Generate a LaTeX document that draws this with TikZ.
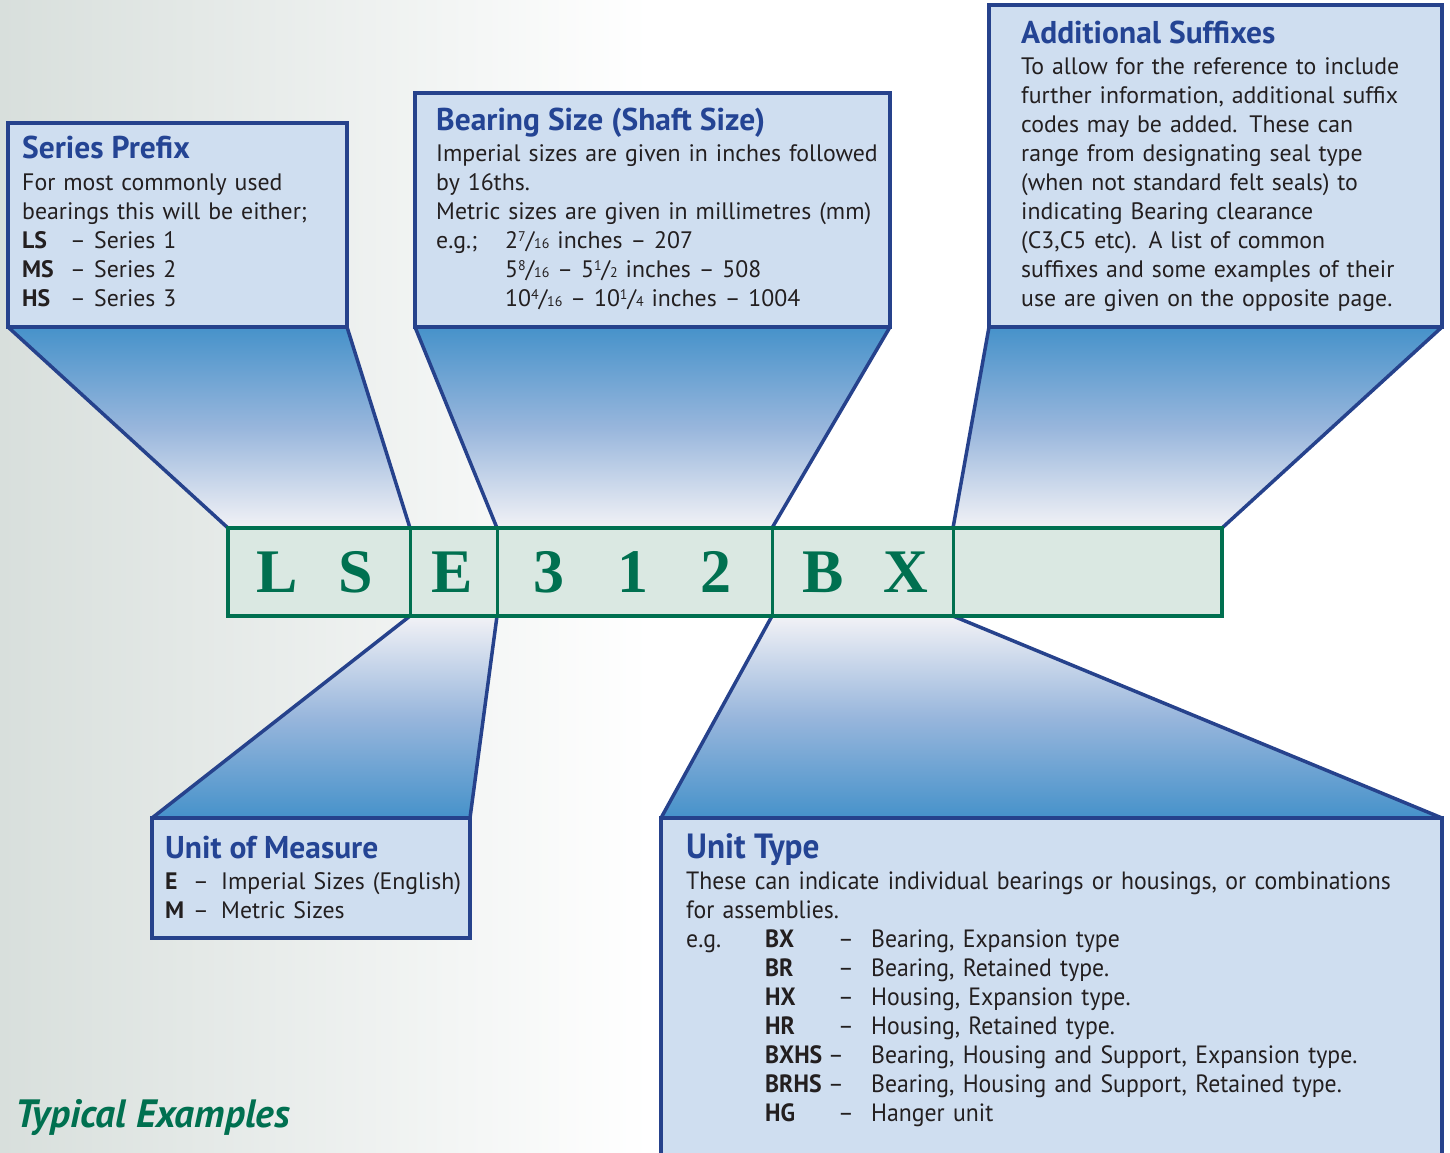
\documentclass[tikz,border=0pt]{standalone}
\usepackage{fontspec}
\setmainfont{PT Sans}
\newfontfamily\codefont{Liberation Serif}
\newfontfamily\condfont[FakeStretch=0.95]{PT Sans}
\usetikzlibrary{calc}
\definecolor{boxfill}{RGB}{207,222,240}
\definecolor{boxline}{RGB}{38,66,140}
\definecolor{headblue}{RGB}{36,68,148}
\definecolor{fundark}{RGB}{70,146,202}
\definecolor{funmid}{RGB}{152,182,220}
\definecolor{funlight}{RGB}{242,242,246}
\definecolor{stripfill}{RGB}{218,232,226}
\definecolor{stripline}{RGB}{0,112,80}
\definecolor{bodytext}{RGB}{35,31,32}
\definecolor{bgleft}{RGB}{216,223,220}
\tikzset{
    infobox/.style={fill=boxfill, draw=boxline, line width=3.5pt},
    funnelside/.style={draw=boxline, line width=3.5pt},
    downfunnel/.style={top color=fundark, bottom color=funlight, middle color=funmid},
    upfunnel/.style={top color=funlight, bottom color=fundark, middle color=funmid},
    stripbox/.style={fill=stripfill, draw=stripline, line width=3.5pt},
}
\newcommand\inchfrac[2]{\raisebox{7pt}{\fontsize{14}{14}\selectfont #1}/{\fontsize{14}{14}\selectfont #2}}
\newcommand\codeline[3]{\makebox[#1][l]{#2}#3}

\begin{document}
\begin{tikzpicture}[x=1pt, y=1pt,
    boxhead/.style={anchor=base west, inner sep=0pt, text=headblue,
        font=\bfseries\fontsize{31.5}{34}\selectfont},
    boxbody/.style={anchor=base west, inner sep=0pt, align=left, text=bodytext,
        text width=#1, font=\fontsize{23.8}{29}\selectfont},
    codechar/.style={anchor=base, inner sep=0pt, text=stripline,
        font=\codefont\bfseries\fontsize{62}{62}\selectfont}]
	\clip (0,0) rectangle (1450,-1152);
	\fill[white] (0,0) rectangle (1450,-1152);
	\shade[left color=bgleft, right color=white] (0,0) rectangle (650,-1152);
	% code strip corners
	\coordinate (st0) at (228,-528); \coordinate (st1) at (410,-528);
	\coordinate (st2) at (497,-528); \coordinate (st3) at (772,-528);
	\coordinate (st4) at (953,-528); \coordinate (st5) at (1222,-528);
	\coordinate (sb1) at (410,-616); \coordinate (sb2) at (497,-616);
	\coordinate (sb3) at (772,-616); \coordinate (sb4) at (953,-616);
	% box corners
	\coordinate (sp-sw) at (8,-327);     \coordinate (sp-se) at (347,-327);
	\coordinate (bs-sw) at (415,-327);   \coordinate (bs-se) at (890,-327);
	\coordinate (as-sw) at (989,-327);   \coordinate (as-se) at (1442,-327);
	\coordinate (um-nw) at (152,-818);   \coordinate (um-ne) at (470,-818);
	\coordinate (ut-nw) at (661,-818);   \coordinate (ut-ne) at (1442,-818);
	% funnels
	\shade[downfunnel] (sp-sw) -- (sp-se) -- (st1) -- (st0) -- cycle;
	\shade[downfunnel] (bs-sw) -- (bs-se) -- (st3) -- (st2) -- cycle;
	\shade[downfunnel] (as-sw) -- (as-se) -- (st5) -- (st4) -- cycle;
	\shade[upfunnel] (sb1) -- (sb2) -- (um-ne) -- (um-nw) -- cycle;
	\shade[upfunnel] (sb3) -- (sb4) -- (ut-ne) -- (ut-nw) -- cycle;
	\draw[funnelside] (sp-sw) -- (st0) (sp-se) -- (st1);
	\draw[funnelside] (bs-sw) -- (st2) (bs-se) -- (st3);
	\draw[funnelside] (as-sw) -- (st4) (as-se) -- (st5);
	\draw[funnelside] (sb1) -- (um-nw) (sb2) -- (um-ne);
	\draw[funnelside] (sb3) -- (ut-nw) (sb4) -- (ut-ne);
	% boxes
	\draw[infobox] (8,-123) rectangle (sp-se);
	\draw[infobox] (415,-93) rectangle (bs-se);
	\draw[infobox] (989,-5) rectangle (as-se);
	\draw[infobox] (um-nw) rectangle (470,-938);
	\draw[infobox] (ut-nw) rectangle (1442,-1170);
	% code strip
	\draw[stripbox] (st0) rectangle (1222,-616);
	\draw[stripline, line width=3pt] (st1) -- (sb1) (st2) -- (sb2) (st3) -- (sb3) (st4) -- (sb4);
	\foreach \ch/\cx in {L/277, S/356, E/452, 3/549, 1/633, 2/716, B/823, X/906}
		\node[codechar] (code-\ch) at (\cx,-592) {\ch};
	% texts
	\node[boxhead] (sp-head) at (22,-158) {Series Prefix};
	\node[boxbody=320pt] (sp-body) at (22,-190) {For most commonly used\\
		bearings this will be either;\\
		\codeline{48pt}{\textbf{LS}}{\codeline{24pt}{–}{Series 1}}\\
		\codeline{48pt}{\textbf{MS}}{\codeline{24pt}{–}{Series 2}}\\
		\codeline{48pt}{\textbf{HS}}{\codeline{24pt}{–}{Series 3}}};
	\node[boxhead] (bs-head) at (436,-130) {Bearing Size (Shaft Size)};
	\node[boxbody=450pt] (bs-body) at (436,-161) {Imperial sizes are given in inches followed\\
		by 16ths.\\
		Metric sizes are given in millimetres (mm)\\
		\codeline{69pt}{e.g.;}{2\inchfrac{7}{16} inches – 207}\\
		\hspace*{69pt}5\inchfrac{8}{16} – 5\inchfrac{1}{2} inches – 508\\
		\hspace*{69pt}10\inchfrac{4}{16} – 10\inchfrac{1}{4} inches – 1004};
	\node[boxhead] (as-head) at (1021,-43) {Additional Suffixes};
	\node[boxbody=430pt] (as-body) at (1021,-74) {To allow for the reference to include\\
		further information, additional suffix\\
		codes may be added. These can\\
		range from designating seal type\\
		(when not standard felt seals) to\\
		indicating Bearing clearance\\
		(C3,C5 etc). A list of common\\
		suffixes and some examples of their\\
		use are given on the opposite page.};
	\node[boxhead] (um-head) at (165,-858) {Unit of Measure};
	\node[boxbody=300pt] (um-body) at (165,-889) {%
		\codeline{28pt}{\textbf{E}}{\codeline{28pt}{–}{Imperial Sizes (English)}}\\
		\codeline{28pt}{\textbf{M}}{\codeline{28pt}{–}{Metric Sizes}}};
	\node[boxhead, font=\condfont\bfseries\fontsize{35}{38}\selectfont] (ut-head) at (686,-858) {Unit Type};
	\node[boxbody=760pt, font=\condfont\fontsize{25}{29}\selectfont] (ut-body) at (686,-889) {%
		These can indicate individual bearings or housings, or combinations\\
		for assemblies.\\
		\codeline{79pt}{e.g.}{\codeline{73pt}{\textbf{BX}}{\codeline{33pt}{–}{Bearing, Expansion type}}}\\
		\hspace*{79pt}\codeline{73pt}{\textbf{BR}}{\codeline{33pt}{–}{Bearing, Retained type.}}\\
		\hspace*{79pt}\codeline{73pt}{\textbf{HX}}{\codeline{33pt}{–}{Housing, Expansion type.}}\\
		\hspace*{79pt}\codeline{73pt}{\textbf{HR}}{\codeline{33pt}{–}{Housing, Retained type.}}\\
		\hspace*{79pt}\codeline{63pt}{\textbf{BXHS}}{\codeline{43pt}{–}{Bearing, Housing and Support, Expansion type.}}\\
		\hspace*{79pt}\codeline{63pt}{\textbf{BRHS}}{\codeline{43pt}{–}{Bearing, Housing and Support, Retained type.}}\\
		\hspace*{79pt}\codeline{73pt}{\textbf{HG}}{\codeline{33pt}{–}{Hanger unit}}};
	\node[anchor=base west, inner sep=0pt, text=stripline,
		font=\bfseries\itshape\fontsize{39.5}{44}\selectfont] (typical) at (15,-1127) {Typical Examples};
\end{tikzpicture}
\end{document}
